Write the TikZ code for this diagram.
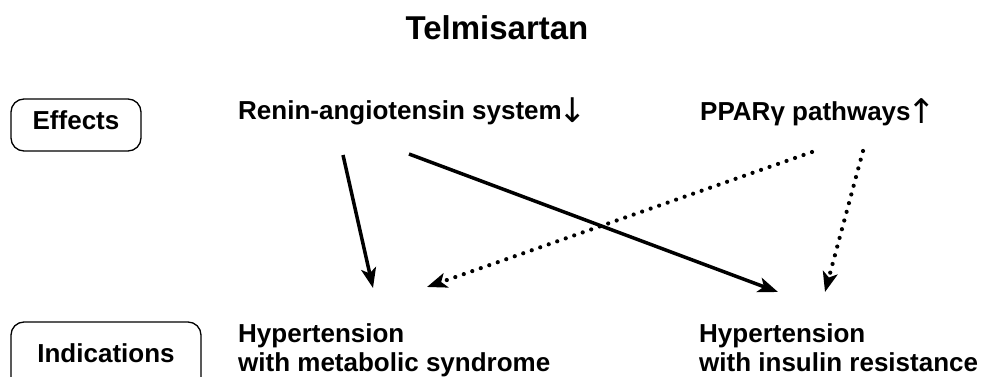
\documentclass[tikz,border=0pt]{standalone}
\usepackage{fontspec}
\setmainfont{Liberation Sans}
\newfontfamily\arrowfont{DejaVu Sans}
\newcommand{\dnarr}{{\kern-3pt\arrowfont\mdseries\fontsize{34}{29}\selectfont\raisebox{-3pt}{↓}}}
\newcommand{\uparr}{{\kern-3pt\arrowfont\mdseries\fontsize{34}{29}\selectfont\raisebox{-3pt}{↑}}}
\usetikzlibrary{arrows.meta}
\begin{document}
\begin{tikzpicture}[x=1pt,y=-1pt,
  lbl/.style={font=\fontsize{26}{29}\selectfont\bfseries, inner sep=0pt, align=left},
  tagbox/.style={draw, rounded corners=13pt, line width=1.3pt, inner sep=0pt,
    font=\fontsize{26}{29}\selectfont\bfseries, anchor=base},
  tip/.style={-{Stealth[length=20pt,width=15pt,inset=5pt]}},
  solidarr/.style={tip, line width=3.5pt},
  dotarr/.style={tip, line width=4.2pt, line cap=round, dash pattern=on 0pt off 9pt}]
\clip (0,0) rectangle (985,377);
\node[font=\fontsize{33}{40}\selectfont\bfseries, anchor=base, inner sep=0pt] (title) at (497,40) {Telmisartan};
\node[tagbox, minimum width=130pt, text height=31pt, text depth=21pt] (effects) at (76,130) {Effects};
\node[tagbox, minimum width=190pt, text height=40pt, text depth=30pt] (indications) at (106,362) {Indications};
\node[lbl, anchor=base west] (ras) at (238,120) {Renin-angiotensin system\dnarr};
\node[lbl, anchor=base west] (ppar) at (700,121) {PPARγ pathways\uparr};
\node[lbl, anchor=north west] (hms) at (238,323.4) {Hypertension\\with metabolic syndrome};
\node[lbl, anchor=north west] (hir) at (699,323.4) {Hypertension\\with insulin resistance};
\coordinate (rasA) at (343,155);
\coordinate (rasB) at (409,154);
\coordinate (pparA) at (812,152);
\coordinate (pparB) at (863,151);
\coordinate (hmsA) at (373,288);
\coordinate (hmsB) at (427,287);
\coordinate (hirA) at (778,292);
\coordinate (hirB) at (825,292);
\draw[solidarr] (rasA) -- (hmsA);
\draw[solidarr] (rasB) -- (hirA);
\draw[dotarr] (pparA) -- (hmsB);
\draw[dotarr] (pparB) -- (hirB);
\end{tikzpicture}
\end{document}
